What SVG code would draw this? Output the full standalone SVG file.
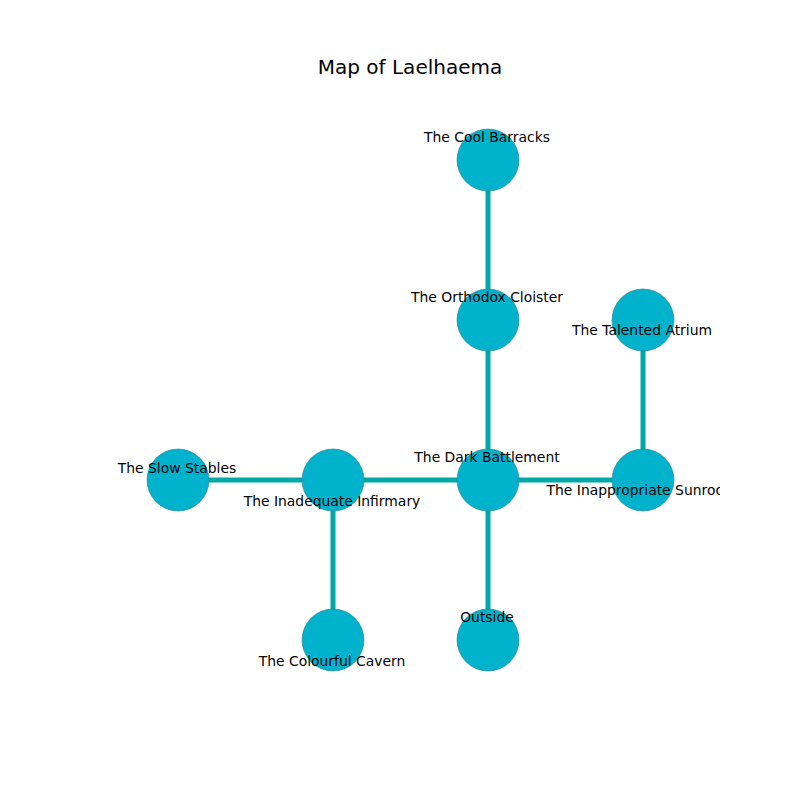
<svg xmlns="http://www.w3.org/2000/svg" width="800" height="800" viewBox="0 0 800 800">
<style>
.e{stroke:#00a8a8;stroke-width:5;fill:none}
.n{fill:#00b2cc;stroke:#2a7f8a;stroke-width:0.6}
.l{font-family:"DejaVu Sans",sans-serif;font-size:13.9px;fill:#000;text-anchor:middle}
.t{font-family:"DejaVu Sans",sans-serif;font-size:20px;fill:#000;text-anchor:middle}
</style>
<defs><clipPath id="ax"><rect x="80" y="96" width="640" height="608"/></clipPath></defs>
<rect width="800" height="800" fill="#fff"/>
<text class="t" x="410" y="74">Map of Laelhaema</text>
<g id="connectors" clip-path="url(#ax)">
<line class="e" x1="488" y1="160" x2="488" y2="320"/>
<line class="e" x1="488" y1="320" x2="488" y2="480"/>
<line class="e" x1="643" y1="320" x2="643" y2="480"/>
<line class="e" x1="178" y1="480" x2="643" y2="480"/>
<line class="e" x1="333" y1="480" x2="333" y2="640"/>
<line class="e" x1="488" y1="480" x2="488" y2="640"/>
</g>
<g clip-path="url(#ax)">
<g id="cool-barracks"><circle class="n" cx="488" cy="160" r="31"/></g>
<g id="orthodox-cloister"><circle class="n" cx="488" cy="320" r="31"/></g>
<g id="talented-atrium"><circle class="n" cx="643" cy="320" r="31"/></g>
<g id="slow-stables"><circle class="n" cx="178" cy="480" r="31"/></g>
<g id="inadequate-infirmary"><circle class="n" cx="333" cy="480" r="31"/></g>
<g id="dark-battlement"><circle class="n" cx="488" cy="480" r="31"/></g>
<g id="inappropriate-sunroom"><circle class="n" cx="643" cy="480" r="31"/></g>
<g id="colourful-cavern"><circle class="n" cx="333" cy="640" r="31"/></g>
<g id="outside"><circle class="n" cx="488" cy="640" r="31"/></g>
<g id="labels">
<text class="l" x="487" y="142">The Cool Barracks</text>
<text class="l" x="487" y="302">The Orthodox Cloister</text>
<text class="l" x="642" y="335">The Talented Atrium</text>
<text class="l" x="177" y="473">The Slow Stables</text>
<text class="l" x="332" y="506">The Inadequate Infirmary</text>
<text class="l" x="487" y="462">The Dark Battlement</text>
<text class="l" x="642" y="495">The Inappropriate Sunroom</text>
<text class="l" x="332" y="666">The Colourful Cavern</text>
<text class="l" x="487" y="622">Outside</text>
</g>
</g>
</svg>
